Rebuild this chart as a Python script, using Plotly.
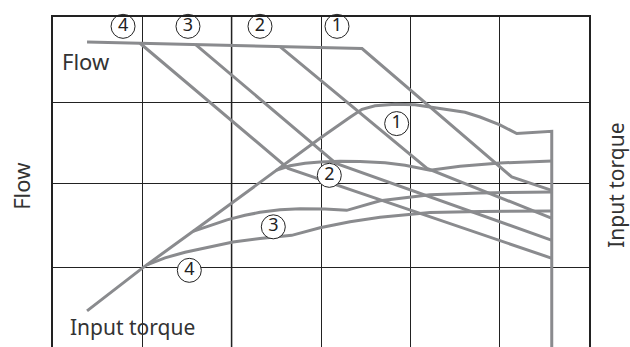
import plotly.graph_objects as go

# Relative units: x spans 6 grid columns, y spans 4 grid rows
flow1_x = [0.381, 3.459, 5.135, 5.583]
flow1_y = [3.700, 3.621, 2.080, 1.920]
flow2_x = [2.541, 4.187, 5.586]
flow2_y = [3.645, 2.184, 1.584]
flow3_x = [1.597, 3.168, 5.586]
flow3_y = [3.669, 2.244, 1.320]
flow4_x = [0.974, 2.631, 5.586]
flow4_y = [3.685, 2.184, 1.104]

torque1_x = [0.381, 0.996, 1.646, 2.317, 2.989, 3.325, 3.459, 3.605, 3.829, 4.052,
             4.332, 4.612, 4.780, 5.003, 5.191, 5.583, 5.583]
torque1_y = [0.474, 0.984, 1.488, 2.016, 2.544, 2.796, 2.892, 2.934, 2.952, 2.946,
             2.904, 2.856, 2.800, 2.706, 2.601, 2.628, 0.0]
torque2_x = [2.496, 2.653, 2.821, 2.989, 3.213, 3.437, 3.717, 3.941, 4.221, 4.556, 5.003, 5.586]
torque2_y = [2.160, 2.214, 2.244, 2.260, 2.268, 2.265, 2.250, 2.220, 2.160, 2.208, 2.248, 2.272]
torque3_x = [1.567, 1.758, 1.948, 2.149, 2.317, 2.541, 2.765, 3.045, 3.288, 3.661, 4.220, 4.780, 5.586]
torque3_y = [1.428, 1.500, 1.566, 1.620, 1.656, 1.686, 1.698, 1.696, 1.680, 1.794, 1.866, 1.888, 1.900]
torque4_x = [1.052, 1.254, 1.478, 1.646, 2.015, 2.317, 2.672, 2.989, 3.325, 3.661, 4.220, 4.780, 5.586]
torque4_y = [1.025, 1.110, 1.176, 1.212, 1.300, 1.341, 1.380, 1.470, 1.542, 1.596, 1.653, 1.666, 1.672]

label_text = ["1", "2", "3", "4"]
flow_label_x = [3.179, 2.317, 1.511, 0.784]
flow_label_y = [3.888, 3.888, 3.888, 3.888]
torque_label_x = [3.847, 3.093, 2.466, 1.526]
torque_label_y = [2.721, 2.100, 1.482, 0.960]

x_grid = [1, 2, 3, 4, 5]
y_grid = [1, 2, 2.98]

LINE = "#8a8b8e"
TEXT = "#333333"
FONT = "Noto Sans"

fig = go.Figure()
for xs, ys in [(flow1_x, flow1_y), (flow2_x, flow2_y), (flow3_x, flow3_y), (flow4_x, flow4_y),
               (torque1_x, torque1_y), (torque2_x, torque2_y), (torque3_x, torque3_y),
               (torque4_x, torque4_y)]:
    fig.add_trace(go.Scatter(x=xs, y=ys, mode="lines",
                             line=dict(color=LINE, width=3), hoverinfo="skip"))

fig.add_trace(go.Scatter(
    x=flow_label_x + torque_label_x, y=flow_label_y + torque_label_y,
    mode="markers+text", text=label_text + label_text, textposition="middle center",
    marker=dict(size=24, color="white", line=dict(color="#222222", width=1)),
    textfont=dict(family=FONT, size=18, color="#222222"),
    cliponaxis=False, hoverinfo="skip"))

fig.add_shape(type="line", xref="x", yref="paper", x0=2, x1=2, y0=0, y1=1,
              line=dict(color="#8a8a8a", width=2), layer="below")

fig.add_annotation(text="Flow", xref="x", yref="y", x=0.078, y=3.468, xanchor="left",
                   yanchor="middle", showarrow=False, font=dict(family=FONT, size=22, color=TEXT))
fig.add_annotation(text="Input torque", xref="x", yref="y", x=0.171, y=0.276, xanchor="left",
                   yanchor="middle", showarrow=False, font=dict(family=FONT, size=21, color=TEXT))
fig.add_annotation(text="Flow", xref="paper", yref="y", x=0, y=1.974, xshift=-32,
                   xanchor="center", yanchor="middle",
                   textangle=-90, showarrow=False, font=dict(family=FONT, size=22, color=TEXT))
fig.add_annotation(text="Input torque", xref="paper", yref="y", x=1, y=1.974, xshift=27,
                   xanchor="center", yanchor="middle",
                   textangle=-90, showarrow=False, font=dict(family=FONT, size=21, color=TEXT))

fig.update_layout(
    width=630, height=347, margin=dict(l=53, r=41, t=17, b=0),
    paper_bgcolor="white", plot_bgcolor="white", showlegend=False,
    xaxis=dict(range=[0, 6], tickvals=x_grid, showticklabels=False, ticks="",
               showgrid=True, gridcolor="#222222", gridwidth=1, zeroline=False,
               showline=True, linecolor="#222222", linewidth=1.5, side="top", mirror=False),
    yaxis=dict(range=[0.04, 4], tickvals=y_grid, showticklabels=False, ticks="",
               showgrid=True, gridcolor="#222222", gridwidth=1, zeroline=False,
               showline=True, linecolor="#222222", linewidth=1.5, mirror=True),
)

fig.write_html("out.html", config={"displayModeBar": False},
               post_script="document.body.style.margin='0';document.body.style.padding='0';")
